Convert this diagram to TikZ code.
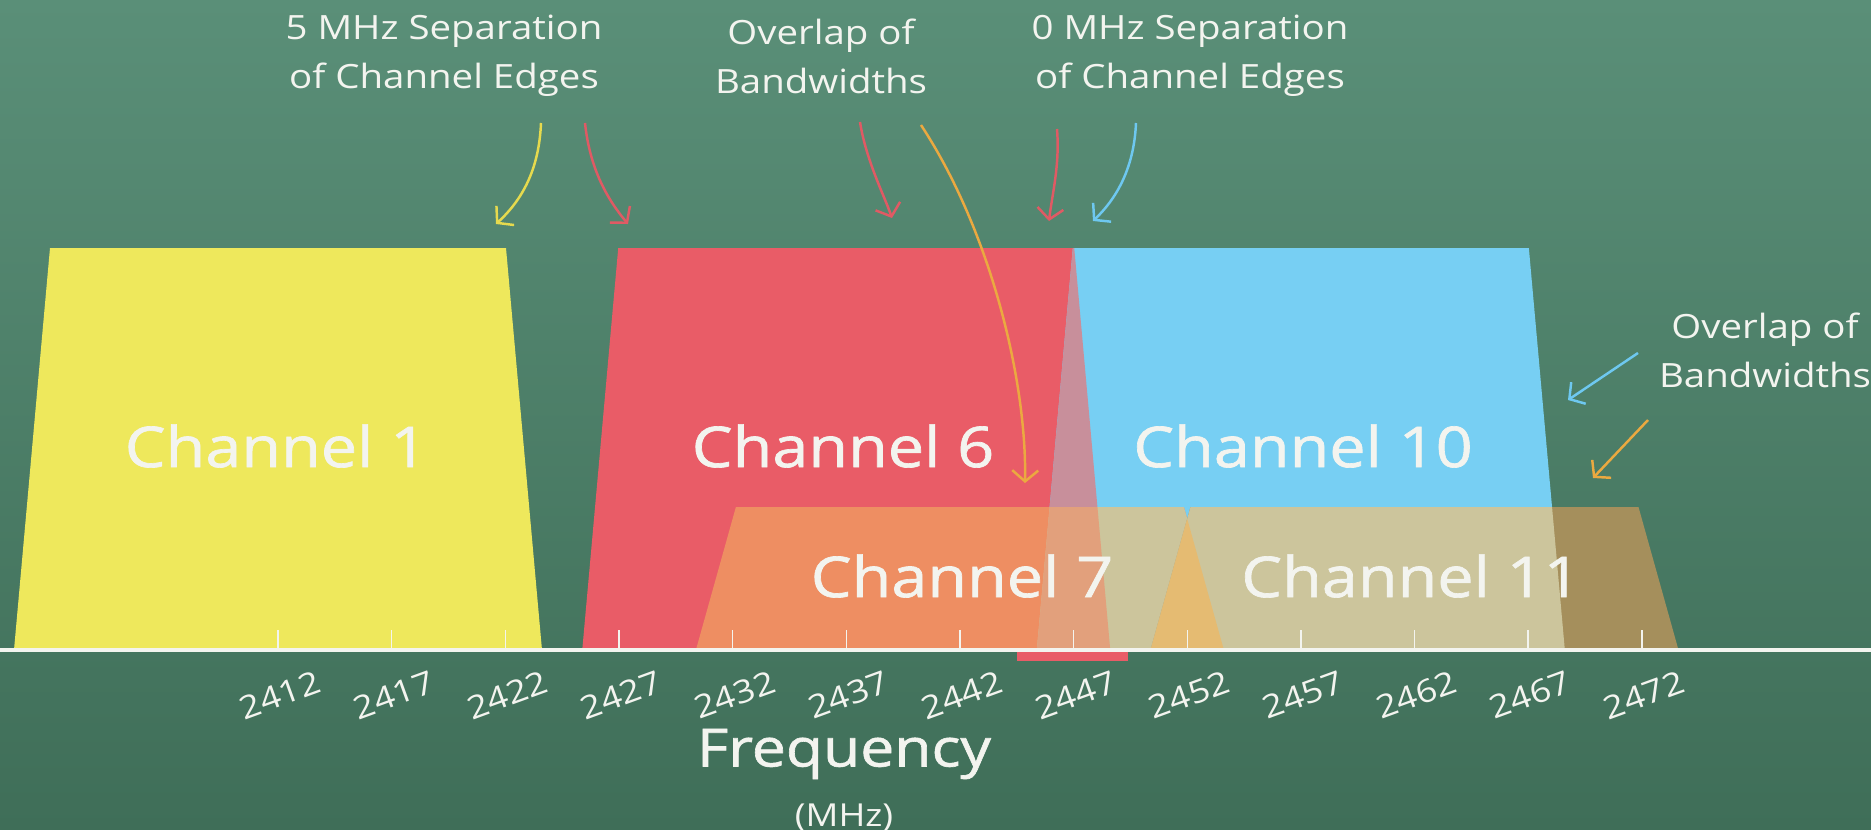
\documentclass[tikz,border=0pt]{standalone}
\usepackage{fontspec}
\setmainfont{Open Sans}[FakeStretch=1.15]
\newfontfamily\chalkbold{Open Sans}[FakeStretch=1.15, FakeBold=1.2]
\usepackage{tikz}
\usetikzlibrary{positioning, arrows.meta}

\definecolor{boardtop}{HTML}{5A8F78}
\definecolor{boardbot}{HTML}{3F6E58}
\definecolor{chalk}{HTML}{F3F4EF}
\definecolor{chone}{HTML}{EEE85C}
\definecolor{chsix}{HTML}{E95C67}
\definecolor{chten}{HTML}{77CFF3}
\definecolor{sixten}{HTML}{C88F9B}
\definecolor{chseven}{HTML}{EE8E62}
\definecolor{peach}{HTML}{E2A07C}
\definecolor{tanmix}{HTML}{CCC59C}
\definecolor{darktan}{HTML}{A58F5C}
\definecolor{goldmix}{HTML}{E5BB72}
\definecolor{ayellow}{HTML}{E6DA4E}
\definecolor{ared}{HTML}{E05A64}
\definecolor{aorange}{HTML}{EBA940}
\definecolor{ablue}{HTML}{6EC8F0}

\tikzstyle{chanlabel} = [text=chalk, inner sep=0pt, font=\chalkbold\fontsize{16}{18}\selectfont]
\tikzstyle{note} = [text=chalk, inner sep=0pt, align=center, font=\fontsize{9.5}{14}\selectfont]
\tikzstyle{ticklabel} = [text=chalk, inner sep=0pt, rotate=20, font=\fontsize{9}{10}\selectfont]
\tikzstyle{pointer} = [line width=0.7pt, -{Straight Barb[length=1.1mm,width=2.6mm]}]
% channel shapes, centre given in MHz
\tikzset{
  bigchan/.style={insert path={({278+(#1-2412)*22.73-228},248) -- ({278+(#1-2412)*22.73+228},248) -- ({278+(#1-2412)*22.73+264},650) -- ({278+(#1-2412)*22.73-264},650) -- cycle}},
  smallchan/.style={insert path={({278+(#1-2412)*22.73-224},507) -- ({278+(#1-2412)*22.73+224},507) -- ({278+(#1-2412)*22.73+264},650) -- ({278+(#1-2412)*22.73-264},650) -- cycle}}
}

\begin{document}
\begin{tikzpicture}[x=0.01cm, y=-0.01cm]
  \useasboundingbox (0,0) rectangle (1871,830);
  \shade[top color=boardtop, bottom color=boardbot] (0,0) rectangle (1871,830);

  % Channels 1, 6, 10
  \fill[chone, bigchan=2412];
  \fill[chsix, bigchan=2437];
  \fill[chsix] (1017,650) rectangle (1128,661);
  \fill[chten, bigchan=2457];
  \begin{scope}
    \clip[bigchan=2437];
    \fill[sixten, bigchan=2457];
  \end{scope}

  % Channel 7
  \fill[chseven, smallchan=2442];
  \begin{scope}
    \clip[smallchan=2442];
    \fill[tanmix, bigchan=2457];
    \clip[bigchan=2437];
    \fill[peach, bigchan=2457];
  \end{scope}

  % Channel 11
  \fill[darktan, smallchan=2462];
  \begin{scope}
    \clip[smallchan=2462];
    \fill[tanmix, bigchan=2457];
    \clip[smallchan=2442];
    \fill[goldmix, smallchan=2462];
  \end{scope}

  \node[chanlabel] (c1) at (276,446) {Channel 1};
  \node[chanlabel] (c6) at (843,446) {Channel 6};
  \node[chanlabel] (c10) at (1303,446) {Channel 10};
  \node[chanlabel] (c7) at (962,576) {Channel 7};
  \node[chanlabel] (c11) at (1411,576) {Channel 11};

  % Axis
  \coordinate (axl) at (0,650);
  \coordinate (axr) at (1871,650);
  \draw[chalk, line width=1pt] (axl) -- (axr);
  \foreach \f in {2412,2417,...,2472} {
    \coordinate (t\f) at ({278+(\f-2412)*22.73},650);
    \draw[chalk, line width=0.4pt] (t\f) -- ++(0,-20);
    \node[ticklabel] (l\f) at ({280+(\f-2412)*22.73},695) {\f};
  }
  \node[chanlabel, font=\chalkbold\fontsize{15}{17}\selectfont] (freq) at (844,754) {Frequency};
  \node[note, font=\fontsize{9}{10}\selectfont, below=14pt of freq.center] (mhz) {(MHz)};

  % Notes
  \node[note] (sep5) at (444,56) {5 MHz Separation\\of Channel Edges};
  \node[note] (ovl) at (821,56) {Overlap of\\Bandwidths};
  \node[note] (sep0) at (1190,56) {0 MHz Separation\\of Channel Edges};
  \node[note] (ovr) at (1765,350) {Overlap of\\Bandwidths};

  \coordinate (ya) at (541,123); \coordinate (yb) at (496,224);
  \coordinate (ra) at (585,123); \coordinate (rb) at (628,224);
  \coordinate (rc) at (860,122); \coordinate (rd) at (892,218);
  \coordinate (oa) at (921,125); \coordinate (ob) at (1025,483);
  \coordinate (re) at (1057,129); \coordinate (rf) at (1049,221);
  \coordinate (ba) at (1136,123); \coordinate (bb) at (1093,221);
  \coordinate (bc) at (1638,353); \coordinate (bd) at (1568,400);
  \coordinate (oc) at (1648,420); \coordinate (od) at (1593,478);

  \draw[pointer, ayellow] (ya) .. controls (539,170) and (522,200) .. (yb);
  \draw[pointer, ared] (ra) .. controls (590,170) and (608,200) .. (rb);
  \draw[pointer, ared] (rc) .. controls (866,160) and (884,195) .. (rd);
  \draw[pointer, aorange] (oa) .. controls (990,230) and (1027,380) .. (ob);
  \draw[pointer, ared] (re) .. controls (1060,165) and (1052,195) .. (rf);
  \draw[pointer, ablue] (ba) .. controls (1134,170) and (1115,200) .. (bb);
  \draw[pointer, ablue] (bc) -- (bd);
  \draw[pointer, aorange] (oc) -- (od);
\end{tikzpicture}
\end{document}
